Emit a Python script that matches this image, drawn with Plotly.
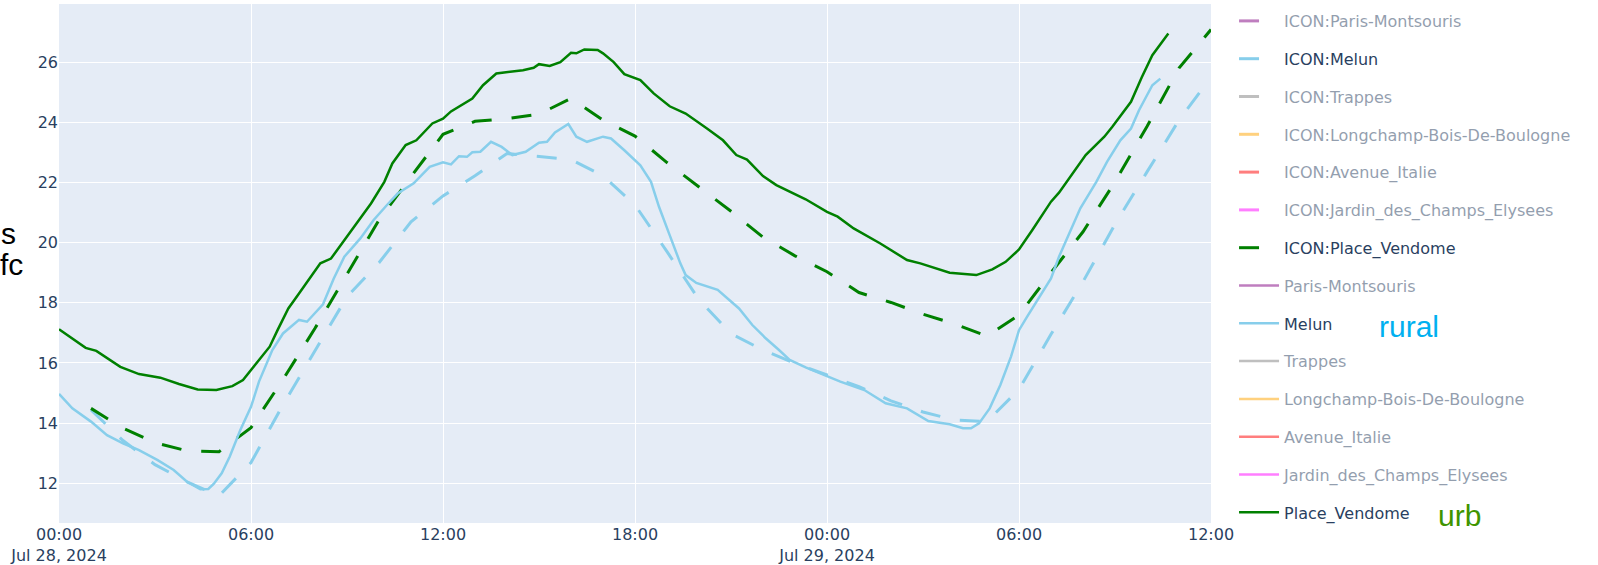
import plotly.graph_objects as go
import pandas as pd

# ---------------- data ----------------
stations = ["Paris-Montsouris", "Melun", "Trappes", "Longchamp-Bois-De-Boulogne",
            "Avenue_Italie", "Jardin_des_Champs_Elysees", "Place_Vendome"]
station_colors = ["purple", "skyblue", "gray", "orange", "red", "magenta", "green"]

# ICON model, hourly from 2024-07-28 01:00 to 2024-07-29 12:00
icon_start = "2024-07-28 01:00"
icon_melun = [14.44, 13.42, 12.62, 12.05, 11.58, 12.69, 14.61, 16.41, 18.20, 19.33,
              20.69, 21.55, 22.22, 22.96, 22.85, 22.76, 22.22, 21.25, 19.70, 18.10,
              16.97, 16.43, 15.99, 15.60, 15.21, 14.74, 14.37, 14.10, 14.05, 15.12,
              16.95, 18.70, 20.61, 22.35, 24.07, 25.50]
icon_vendome = [14.49, 13.83, 13.35, 13.08, 13.05, 13.85, 15.45, 17.15, 18.95, 20.75,
                22.19, 23.60, 24.03, 24.12, 24.27, 24.79, 24.07, 23.54, 22.66, 21.84,
                21.04, 20.18, 19.56, 19.03, 18.34, 18.01, 17.62, 17.29, 16.89, 17.59,
                19.00, 20.36, 22.02, 23.86, 25.80, 27.08]

# observations (day-of-July + time)
melun_obs_time = ["28 00:00", "28 00:25", "28 01:00", "28 01:30", "28 02:00", "28 02:30", "28 03:05",
                  "28 03:35", "28 04:00", "28 04:25", "28 04:40", "28 04:50", "28 05:05", "28 05:20",
                  "28 05:40", "28 06:00", "28 06:15", "28 06:40", "28 07:00", "28 07:30", "28 07:45",
                  "28 08:15", "28 08:35", "28 08:55", "28 09:25", "28 09:50", "28 10:15", "28 10:35",
                  "28 11:05", "28 11:35", "28 12:00", "28 12:15", "28 12:30", "28 12:45", "28 12:55",
                  "28 13:10", "28 13:30", "28 13:50", "28 14:10", "28 14:35", "28 15:00", "28 15:15",
                  "28 15:30", "28 15:55", "28 16:10", "28 16:30", "28 17:00", "28 17:15", "28 17:40",
                  "28 18:10", "28 18:30", "28 18:45", "28 19:05", "28 19:25", "28 19:35", "28 19:55",
                  "28 20:35", "28 21:15", "28 21:40", "28 22:05", "28 22:30", "28 22:50", "28 23:20",
                  "28 23:55", "29 00:25", "29 01:10", "29 01:50", "29 02:30", "29 03:10", "29 03:50",
                  "29 04:15", "29 04:30", "29 04:45", "29 05:05", "29 05:25", "29 05:45", "29 06:00",
                  "29 06:15", "29 06:35", "29 07:00", "29 07:15", "29 07:35", "29 07:55", "29 08:25",
                  "29 08:45", "29 09:10", "29 09:30", "29 09:45", "29 10:10", "29 10:25"]
melun_obs_temp = [14.97, 14.49, 14.05, 13.60, 13.33, 13.10, 12.77,
                  12.44, 12.05, 11.80, 11.81, 11.98, 12.33, 12.88,
                  13.77, 14.54, 15.38, 16.43, 16.98, 17.43, 17.37,
                  17.95, 18.80, 19.53, 20.14, 20.75, 21.25, 21.63,
                  21.97, 22.52, 22.67, 22.60, 22.87, 22.85, 23.00,
                  23.02, 23.35, 23.18, 22.91, 23.02, 23.32, 23.35,
                  23.66, 23.94, 23.52, 23.35, 23.52, 23.46, 23.07,
                  22.57, 22.02, 21.19, 20.25, 19.31, 18.92, 18.66,
                  18.43, 17.81, 17.26, 16.82, 16.43, 16.10, 15.85,
                  15.60, 15.38, 15.10, 14.66, 14.49, 14.07, 13.96,
                  13.83, 13.83, 13.99, 14.49, 15.27, 16.21, 17.09,
                  17.53, 18.12, 18.81, 19.53, 20.31, 21.14, 22.02,
                  22.68, 23.40, 23.79, 24.40, 25.23, 25.45]

vendome_obs_time = ["28 00:00", "28 00:50", "28 01:10", "28 01:55", "28 02:30", "28 03:10", "28 03:45",
                    "28 04:20", "28 04:55", "28 05:25", "28 05:45", "28 06:00", "28 06:15", "28 06:35",
                    "28 06:50", "28 07:10", "28 07:30", "28 07:50", "28 08:10", "28 08:30", "28 09:00",
                    "28 09:25", "28 09:45", "28 10:10", "28 10:25", "28 10:50", "28 11:10", "28 11:40",
                    "28 12:00", "28 12:15", "28 12:30", "28 12:55", "28 13:15", "28 13:40", "28 14:30",
                    "28 14:50", "28 15:00", "28 15:20", "28 15:40", "28 16:00", "28 16:10", "28 16:25",
                    "28 16:50", "28 17:00", "28 17:20", "28 17:40", "28 18:10", "28 18:35", "28 19:05",
                    "28 19:35", "28 20:15", "28 20:45", "28 21:10", "28 21:30", "28 22:00", "28 22:25",
                    "28 23:20", "28 23:45", "29 00:00", "29 00:20", "29 00:50", "29 01:40", "29 02:30",
                    "29 02:55", "29 03:50", "29 04:40", "29 05:10", "29 05:35", "29 06:00", "29 06:25",
                    "29 07:00", "29 07:15", "29 07:40", "29 08:05", "29 08:40", "29 08:55", "29 09:30",
                    "29 09:50", "29 10:10", "29 10:40"]
vendome_obs_temp = [17.12, 16.50, 16.40, 15.87, 15.63, 15.51, 15.30,
                    15.12, 15.10, 15.23, 15.43, 15.76, 16.10, 16.54,
                    17.10, 17.81, 18.31, 18.80, 19.31, 19.47, 20.19,
                    20.80, 21.30, 22.02, 22.63, 23.24, 23.40, 23.96,
                    24.12, 24.36, 24.53, 24.79, 25.23, 25.62, 25.73,
                    25.81, 25.93, 25.87, 26.00, 26.31, 26.29, 26.42,
                    26.40, 26.29, 26.00, 25.60, 25.40, 24.96, 24.53,
                    24.29, 23.79, 23.40, 22.91, 22.76, 22.21, 21.91,
                    21.44, 21.19, 21.02, 20.86, 20.47, 19.97, 19.42,
                    19.31, 19.00, 18.92, 19.11, 19.36, 19.77, 20.42,
                    21.36, 21.66, 22.28, 22.91, 23.52, 23.85, 24.68,
                    25.49, 26.23, 26.95]

# ---------------- build ----------------
icon_times = pd.date_range(icon_start, periods=len(icon_vendome), freq="h")
def to_dt(lst):
    return ["2024-07-" + s for s in lst]

icon_data = {"Melun": icon_melun, "Place_Vendome": icon_vendome}
obs_data = {"Melun": (to_dt(melun_obs_time), melun_obs_temp),
            "Place_Vendome": (to_dt(vendome_obs_time), vendome_obs_temp)}

fig = go.Figure()
for st, col in zip(stations, station_colors):
    if st in icon_data:
        x, y, vis = icon_times, icon_data[st], True
    else:
        x, y, vis = [None], [None], "legendonly"
    fig.add_trace(go.Scatter(x=x, y=y, mode="lines", name="ICON:" + st,
                             legendgroup="ICON:" + st, visible=vis,
                             line=dict(color=col, width=3, dash="20px,20px")))
for st, col in zip(stations, station_colors):
    if st in obs_data:
        (x, y), vis = obs_data[st], True
    else:
        x, y, vis = [None], [None], "legendonly"
    fig.add_trace(go.Scatter(x=x, y=y, mode="lines", name=st, legendgroup=st,
                             visible=vis, line=dict(color=col, width=2.5)))

fig.update_layout(
    width=1598, height=565,
    template="plotly",
    font=dict(family="DejaVu Sans", size=16),
    margin=dict(l=59, r=387, t=4, b=42, autoexpand=False),
    legend=dict(tracegroupgap=14, itemwidth=40, x=1.02, y=1, maxheight=600),
    showlegend=True,
)
fig.update_xaxes(type="date", range=["2024-07-28 00:00", "2024-07-29 12:00"],
                 dtick=6 * 3600 * 1000)
fig.update_yaxes(range=[10.68, 27.93], dtick=2)

ann_font = "Liberation Sans"
fig.add_annotation(text="s", xref="paper", yref="paper", x=-0.0358, y=0.559,
                   xanchor="right", yanchor="middle", showarrow=False, height=30,
                   font=dict(family=ann_font, size=30, color="black"))
fig.add_annotation(text="fc", xref="paper", yref="paper", x=-0.0292, y=0.4985,
                   xanchor="right", yanchor="middle", showarrow=False, height=30,
                   font=dict(family=ann_font, size=30, color="black"))
fig.add_annotation(text="rural", xref="paper", yref="paper", x=1.1441, y=0.3786,
                   xanchor="left", yanchor="middle", showarrow=False,
                   font=dict(family=ann_font, size=30, color="#00B0F0"))
fig.add_annotation(text="urb", xref="paper", yref="paper", x=1.1951, y=0.0154,
                   xanchor="left", yanchor="middle", showarrow=False,
                   font=dict(family=ann_font, size=30, color="#409400"))

fig.write_html("out.html", config={"displayModeBar": False},
               post_script="document.body.style.margin='0';document.body.style.overflow='hidden';")
